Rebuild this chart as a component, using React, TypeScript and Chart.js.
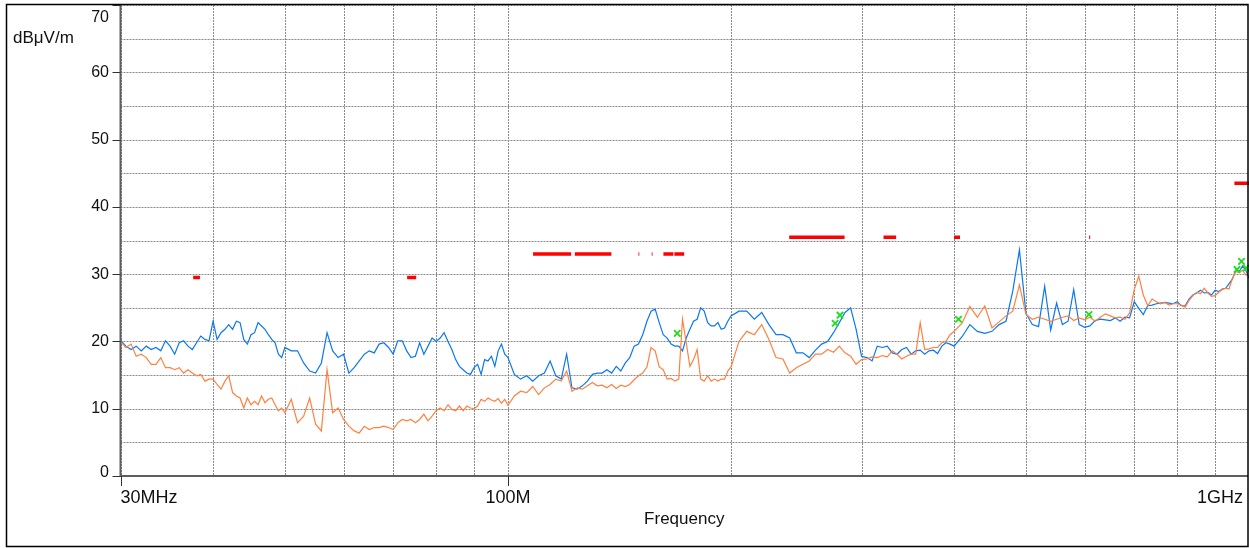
import React, { useEffect, useRef } from 'react';
import { Chart, registerables } from 'chart.js';

Chart.register(...registerables);

// Sweep frequencies (MHz)
const FREQ_MHZ = [
  30, 30.5, 31, 31.5, 32, 32.5, 33, 33.5, 34, 34.5,
  35, 35.5, 36, 36.5, 37, 37.5, 38, 38.5, 39, 39.5,
  40, 40.5, 41, 41.5, 42, 42.5, 43, 43.5, 44, 44.5,
  45, 45.5, 46, 46.5, 47, 47.5, 48, 48.5, 49, 49.5,
  50,
  51, 52, 53, 54, 55, 56, 57, 58, 59, 60,
  61, 62, 63, 64, 65, 66, 67, 68, 69, 70,
  71, 72, 73, 74, 75, 76, 77, 78, 79, 80,
  81, 82, 83, 84, 85, 86, 87, 88, 89, 90,
  91, 92, 93, 94, 95, 96, 97, 98, 99, 100,
  102, 104, 106, 108, 110, 112, 114, 116, 118, 120,
  122, 124, 126, 128, 130, 132, 134, 136, 138, 140,
  142, 144, 146, 148, 150, 152, 154, 156, 158, 160,
  162, 164, 166, 168, 170, 172, 174, 176, 178, 180,
  182, 184, 186, 188, 190, 192, 194, 196, 198, 200,
  205, 210, 215, 220, 225, 230, 235, 240, 245, 250,
  255, 260, 265, 270, 275, 280, 285, 290, 295, 300,
  305, 310, 315, 320, 325, 330, 335, 340, 345, 350,
  355, 360, 365, 370, 375, 380, 385, 390, 395, 400,
  410, 420, 430, 440, 450, 460, 470, 480, 490, 500,
  510, 520, 530, 540, 550, 560, 570, 580, 590, 600,
  610, 620, 630, 640, 650, 660, 670, 680, 690, 700,
  710, 720, 730, 740, 750, 760, 770, 780, 790, 800,
  810, 820, 830, 840, 850, 860, 870, 880, 890, 900,
  910, 920, 930, 940, 950, 960, 970, 980, 990, 1000,
];

// Blue trace (dBµV/m)
const BLUE_TRACE = [
  20.2, 19.3, 18.8, 19.3, 18.6, 19.3, 18.8, 19.1, 18.6, 20.1,
  19.3, 18.1, 19.8, 20.1, 19.3, 18.8, 19.8, 20.8, 20.3, 20.1,
  23.0, 20.3, 21.3, 21.8, 22.5, 21.8, 23.0, 22.8, 20.3, 19.6,
  21.0, 21.3, 22.8, 22.3, 21.8, 21.0, 20.3, 19.8, 18.1, 17.6,
  19.1,
  18.6, 18.6, 16.8, 15.6, 15.3, 16.8, 21.3, 18.6, 17.6, 18.1,
  15.3, 16.1, 17.1, 18.1, 18.6, 18.3, 19.6, 19.8, 19.1, 18.1,
  20.1, 20.1, 18.6, 17.6, 17.8, 19.8, 18.1, 19.3, 20.5, 20.0,
  20.5, 21.3, 20.0, 18.8, 17.3, 16.3, 15.8, 15.3, 15.1, 16.1,
  16.6, 15.1, 17.3, 17.1, 17.8, 16.3, 18.6, 19.6, 18.1, 17.6,
  15.1, 14.4, 14.9, 14.1, 14.9, 15.3, 17.1, 14.9, 14.4, 18.1,
  13.1, 12.9, 13.4, 14.1, 15.1, 15.3, 15.3, 15.8, 15.3, 16.3,
  15.6, 16.8, 17.6, 19.3, 19.6, 21.0, 23.0, 24.5, 24.8, 22.8,
  21.0, 20.5, 19.6, 19.3, 19.3, 18.6, 20.5, 21.8, 23.0, 23.3,
  25.0, 24.5, 22.8, 22.3, 22.3, 22.8, 21.8, 22.0, 23.0, 23.8,
  24.5, 24.5, 23.3, 24.3, 22.5, 21.0, 21.0, 20.5, 18.3, 18.3,
  17.6, 18.7, 19.6, 20.0, 21.3, 22.8, 24.3, 25.0, 21.8, 17.8,
  17.6, 17.1, 19.3, 19.1, 19.3, 18.3, 18.1, 18.8, 19.1, 18.1,
  18.6, 18.7, 18.1, 18.6, 18.7, 18.2, 19.3, 19.8, 19.6, 19.3,
  20.7, 22.5, 21.5, 21.2, 21.5, 22.5, 23.0, 27.5, 33.6, 24.2,
  22.5, 22.2, 28.2, 21.7, 25.7, 22.5, 23.0, 27.7, 22.5, 22.1,
  22.3, 23.1, 23.3, 23.2, 23.1, 23.5, 23.0, 23.6, 23.5, 25.9,
  24.9, 24.0, 25.3, 25.4, 25.6, 25.7, 25.8, 25.7, 25.6, 25.9,
  25.3, 25.3, 26.3, 26.9, 27.2, 27.6, 27.2, 27.3, 26.9, 27.6,
  27.4, 27.8, 27.9, 28.6, 29.3, 30.6, 30.4, 31.2, 30.6, 29.4,
];

// Orange trace (dBµV/m)
const ORANGE_TRACE = [
  20.0, 19.1, 19.6, 17.8, 18.1, 17.6, 16.6, 16.6, 17.6, 16.1,
  16.1, 15.8, 16.1, 15.3, 15.8, 15.3, 14.9, 15.1, 14.1, 14.4,
  14.4, 13.6, 12.9, 14.1, 14.9, 12.4, 11.9, 11.6, 10.1, 11.6,
  10.6, 11.1, 10.6, 11.9, 10.9, 11.4, 11.6, 10.6, 9.7, 10.1,
  9.4,
  11.4, 7.9, 8.9, 11.6, 7.7, 6.7, 15.8, 9.4, 10.1, 8.4,
  7.4, 6.7, 6.4, 7.4, 6.9, 7.2, 7.2, 7.4, 7.2, 6.9,
  7.9, 8.4, 8.2, 8.4, 7.9, 8.4, 9.2, 8.2, 8.9, 9.7,
  10.1, 9.7, 10.6, 9.9, 9.7, 10.4, 9.7, 10.4, 10.1, 10.0,
  10.4, 11.4, 11.1, 11.6, 11.3, 11.1, 11.5, 10.8, 11.4, 10.5,
  11.9, 12.6, 12.4, 13.3, 12.1, 13.1, 13.6, 14.4, 14.1, 15.6,
  12.6, 13.1, 12.9, 13.4, 13.9, 13.4, 13.5, 13.1, 13.6, 13.0,
  13.5, 13.3, 13.6, 14.3, 14.9, 15.3, 16.2, 19.1, 18.6, 16.2,
  15.8, 14.4, 14.5, 14.1, 14.4, 23.3, 19.8, 16.3, 17.3, 18.8,
  14.4, 14.1, 14.9, 14.1, 14.4, 14.1, 14.4, 14.4, 15.6, 16.2,
  20.0, 21.5, 21.0, 22.5, 20.3, 17.6, 17.4, 15.3, 16.1, 16.6,
  17.1, 18.1, 18.1, 18.8, 18.4, 19.3, 18.3, 17.8, 16.6, 17.3,
  17.4, 17.7, 17.6, 17.9, 17.7, 18.6, 18.1, 17.4, 17.8, 18.1,
  18.1, 22.8, 18.8, 18.9, 19.1, 19.1, 19.8, 20.0, 21.0, 21.5,
  22.7, 25.2, 23.6, 25.3, 22.0, 22.9, 23.8, 24.5, 28.4, 24.0,
  23.3, 23.6, 23.3, 23.0, 23.3, 23.6, 23.8, 23.1, 23.5, 23.2,
  23.6, 23.0, 23.6, 24.1, 23.8, 23.5, 23.6, 23.3, 24.2, 27.7,
  29.7, 26.9, 25.3, 26.3, 25.9, 25.6, 25.8, 25.4, 25.6, 25.6,
  25.4, 25.1, 26.1, 26.8, 27.3, 27.1, 27.9, 27.2, 26.7, 26.8,
  27.3, 27.7, 27.9, 27.8, 29.4, 30.4, 30.2, 30.6, 29.9, 29.7,
];

// Red segments: [start MHz, end MHz, level dBµV/m]
const RED_SEGMENTS = [
  [37.6, 38.4, 29.5],
  [73.1, 75.2, 29.5],
  [108.1, 121.7, 33.0],
  [123.1, 137.9, 33.0],
  [150.0, 150.4, 33.0],
  [156.3, 156.7, 33.0],
  [162.1, 167.2, 33.0],
  [167.7, 172.9, 33.0],
  [239.6, 284.6, 35.5],
  [321.2, 334.1, 35.5],
  [399.9, 407.4, 35.5],
  [608.5, 610.5, 35.5],
  [955.6, 1000, 43.5],
];

// Green markers
const MARKER_MHZ = [169.2, 276.4, 280.6, 405.5, 608.1, 963.5, 977, 991];
const MARKER_DBUV = [21.2, 22.7, 23.9, 23.3, 24.0, 30.7, 31.9, 30.9];

// Axes
const X_MIN = 30;
const X_MAX = 1000;
const Y_MIN = 0;
const Y_MAX = 70;
const X_GRID = [30, 40, 50, 60, 70, 80, 90, 100, 200, 300, 400, 500, 600, 700, 800, 900, 1000];
const Y_GRID = [0, 5, 10, 15, 20, 25, 30, 35, 40, 45, 50, 55, 60, 65, 70];
const Y_LABELS = [0, 10, 20, 30, 40, 50, 60, 70];
const X_LABEL_VALUES = [30, 100, 1000];
const X_LABEL_TEXTS = ['30MHz', '100M', '1GHz'];
const Y_UNIT = 'dBμV/m';
const X_TITLE = 'Frequency';

const FONT = '"Liberation Sans", Arial, Helvetica, sans-serif';

const decorPlugin = {
  id: 'decor',
  beforeDatasetsDraw(chart: any) {
    const { ctx, chartArea: a, scales } = chart;
    const x = scales.x;
    const y = scales.y;
    const right = Math.min(a.right, 1248);
    ctx.save();
    ctx.strokeStyle = '#8a8a8a';
    ctx.lineWidth = 1;
    ctx.setLineDash([2, 1]);
    for (const v of X_GRID) {
      const px = Math.round(x.getPixelForValue(v)) + 0.5;
      if (px > 1248) continue;
      ctx.beginPath();
      ctx.moveTo(px, a.top);
      ctx.lineTo(px, a.bottom);
      ctx.stroke();
    }
    for (const v of Y_GRID) {
      const py = Math.round(y.getPixelForValue(v)) + 0.5;
      ctx.beginPath();
      ctx.moveTo(a.left, py);
      ctx.lineTo(right, py);
      ctx.stroke();
    }
    ctx.restore();
  },
  afterDatasetsDraw(chart: any) {
    const { ctx, chartArea: a, scales } = chart;
    const x = scales.x;
    const y = scales.y;
    const right = Math.min(a.right, 1248);
    ctx.save();
    ctx.setLineDash([]);
    // axis lines
    ctx.strokeStyle = '#5e5e5e';
    ctx.lineWidth = 2;
    ctx.beginPath();
    ctx.moveTo(a.left, a.top);
    ctx.lineTo(a.left, a.bottom + 1);
    ctx.moveTo(a.left, a.bottom);
    ctx.lineTo(right, a.bottom);
    ctx.stroke();

    // tick marks
    ctx.strokeStyle = '#333';
    ctx.lineWidth = 1;
    for (const v of Y_LABELS) {
      const py = Math.round(y.getPixelForValue(v)) + 0.5;
      ctx.beginPath();
      ctx.moveTo(a.left - 8, py);
      ctx.lineTo(a.left, py);
      ctx.stroke();
    }
    for (const v of X_LABEL_VALUES) {
      const px = Math.round(x.getPixelForValue(v)) + 0.5;
      if (px > 1248) continue;
      ctx.beginPath();
      ctx.moveTo(px, a.bottom);
      ctx.lineTo(px, a.bottom + 10);
      ctx.stroke();
    }

    // y labels
    ctx.fillStyle = '#111';
    ctx.font = `16px ${FONT}`;
    ctx.textAlign = 'right';
    ctx.textBaseline = 'alphabetic';
    for (const v of Y_LABELS) {
      const py = y.getPixelForValue(v);
      let base = py + 4.5;
      if (v === Y_MAX) base = py + 17;
      if (v === Y_MIN) base = py + 1;
      ctx.fillText(String(v), 109, base);
    }

    // x labels
    ctx.font = `18px ${FONT}`;
    X_LABEL_VALUES.forEach((v, i) => {
      const px = x.getPixelForValue(v);
      if (i === 0) {
        ctx.textAlign = 'left';
        ctx.fillText(X_LABEL_TEXTS[i], px, 503);
      } else if (i === X_LABEL_VALUES.length - 1) {
        ctx.textAlign = 'right';
        ctx.fillText(X_LABEL_TEXTS[i], Math.min(px, 1248) - 5, 503);
      } else {
        ctx.textAlign = 'center';
        ctx.fillText(X_LABEL_TEXTS[i], px, 503);
      }
    });

    // axis title + unit
    ctx.font = `17px ${FONT}`;
    ctx.textAlign = 'center';
    ctx.fillText(X_TITLE, (a.left + 1248) / 2, 524);
    ctx.textAlign = 'left';
    ctx.fillText(Y_UNIT, 13, 43);

    // outer frame
    ctx.strokeStyle = '#000';
    ctx.lineWidth = 1.5;
    ctx.strokeRect(6.5, 4.5, 1241.5, 542);
    ctx.restore();
  },
};

export default function App() {
  const canvasRef = useRef<HTMLCanvasElement | null>(null);

  useEffect(() => {
    const canvas = canvasRef.current;
    if (!canvas) return;

    const redPoints: any[] = [];
    for (const [s, e, lvl] of RED_SEGMENTS) {
      redPoints.push({ x: s, y: lvl });
      redPoints.push({ x: e, y: lvl });
      redPoints.push({ x: e, y: null });
    }

    const chart = new Chart(canvas, {
      type: 'line',
      data: {
        datasets: [
          {
            label: 'markers',
            type: 'scatter',
            data: MARKER_MHZ.map((f, i) => ({ x: f, y: MARKER_DBUV[i] })),
            pointStyle: 'crossRot',
            pointRadius: 4.5,
            pointBorderWidth: 1.8,
            borderColor: '#19e019',
            backgroundColor: '#19e019',
            showLine: false,
            order: 0,
          } as any,
          {
            label: 'limit',
            data: redPoints,
            borderColor: '#ff0000',
            borderWidth: 3.5,
            pointRadius: 0,
            spanGaps: false,
            borderCapStyle: 'butt',
            order: 1,
          } as any,
          {
            label: 'orange',
            data: FREQ_MHZ.map((f, i) => ({ x: f, y: ORANGE_TRACE[i] })),
            borderColor: '#ff8040',
            borderWidth: 1.2,
            pointRadius: 0,
            tension: 0,
            order: 2,
          },
          {
            label: 'blue',
            data: FREQ_MHZ.map((f, i) => ({ x: f, y: BLUE_TRACE[i] })),
            borderColor: '#0a78f0',
            borderWidth: 1.2,
            pointRadius: 0,
            tension: 0,
            order: 3,
          },
        ],
      },
      options: {
        responsive: false,
        animation: false,
        devicePixelRatio: 1,
        layout: { autoPadding: false, padding: { left: 120.5, right: -1, top: 5, bottom: 72 } },
        scales: {
          x: { type: 'logarithmic', min: X_MIN, max: X_MAX, display: false },
          y: { type: 'linear', min: Y_MIN, max: Y_MAX, display: false },
        },
        plugins: {
          legend: { display: false },
          tooltip: { enabled: false },
        },
      },
      plugins: [decorPlugin],
    } as any);

    return () => chart.destroy();
  }, []);

  return (
    <div style={{ position: 'absolute', left: 0, top: 0, width: 1249, height: 548, background: '#fff' }}>
      <canvas ref={canvasRef} width={1249} height={548} style={{ display: 'block' }} />
    </div>
  );
}
